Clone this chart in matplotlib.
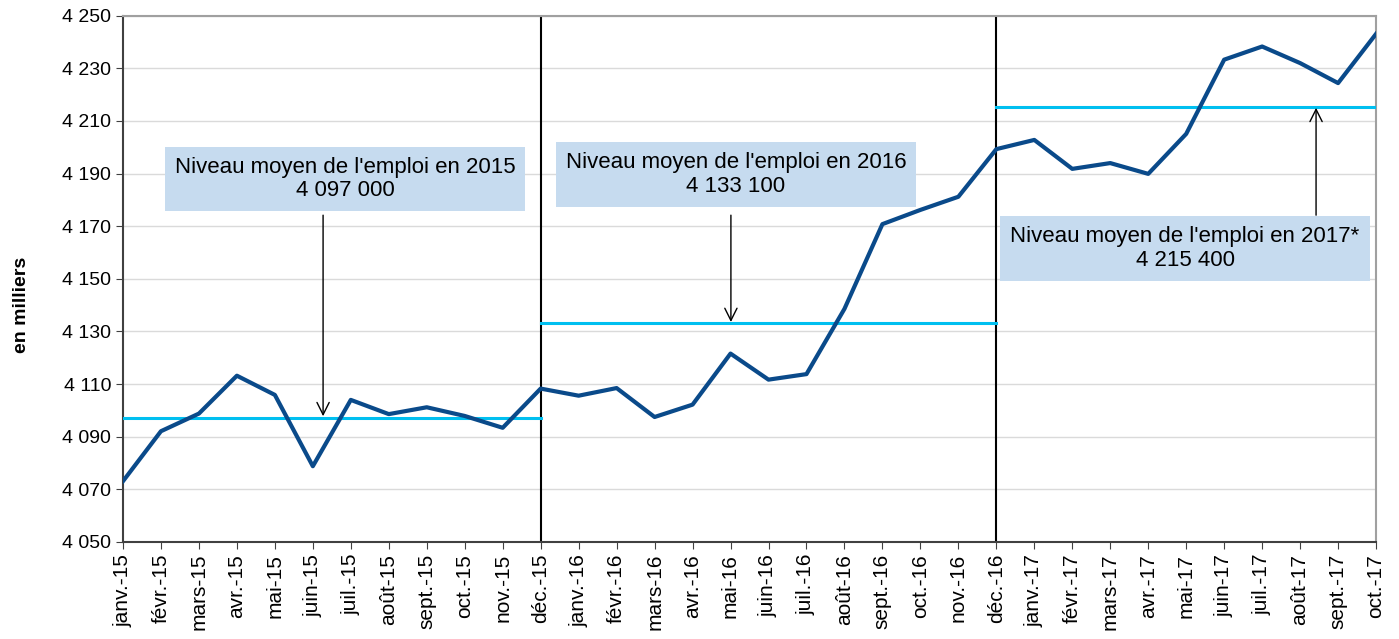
import numpy as np
import matplotlib.pyplot as plt
from matplotlib.ticker import FuncFormatter

plt.rcParams["font.family"] = ["Liberation Sans", "DejaVu Sans"]

months = ["janv.", "févr.", "mars", "avr.", "mai", "juin", "juil.", "août",
          "sept.", "oct.", "nov.", "déc."]
labels = [f"{m}-15" for m in months] + [f"{m}-16" for m in months] + \
         [f"{m}-17" for m in months[:10]]

# employment level, thousands
emploi = [4073.1, 4092.1, 4098.8, 4113.2, 4105.9, 4078.8, 4104.0, 4098.6,
          4101.2, 4097.9, 4093.4, 4108.3,
          4105.6, 4108.5, 4097.5, 4102.2, 4121.6, 4111.7, 4113.8, 4138.6,
          4170.8, 4176.2, 4181.2, 4199.3,
          4202.8, 4191.8, 4194.0, 4189.9, 4205.1, 4233.3, 4238.3, 4232.0,
          4224.4, 4243.1]

# yearly averages (thousands) and the month span they cover
moyennes = [4097.0, 4133.1, 4215.4]
spans = [(0, 11), (11, 23), (23, 33)]
year_breaks = [11, 23]

x = np.arange(len(emploi))

fig = plt.figure(figsize=(13.99, 6.39), dpi=100)
ax = fig.add_axes([0.0879, 0.1518, 0.8957, 0.8236])

ax.set_ylim(4050, 4250)
ax.set_xlim(0, len(emploi) - 1)
ax.set_yticks(np.arange(4050, 4251, 20))
ax.yaxis.set_major_formatter(FuncFormatter(lambda v, p: f"{int(v):,}".replace(",", " ")))
ax.set_xticks(x)
ax.set_xticklabels(labels, rotation=90)
ax.tick_params(axis="both", direction="out", length=5, color="#404040")
ax.tick_params(axis="y", labelsize=14)
ax.tick_params(axis="x", labelsize=15)
ax.grid(axis="y", color="#DADADA", linewidth=1)
ax.set_axisbelow(True)

for side in ["top", "right"]:
    ax.spines[side].set_color("#A0A0A0")
    ax.spines[side].set_linewidth(1.5)
for side in ["left", "bottom"]:
    ax.spines[side].set_color("#404040")
    ax.spines[side].set_linewidth(1.5)

for xb in year_breaks:
    ax.axvline(xb, color="black", linewidth=1.5, zorder=2)

for m, (a, b) in zip(moyennes, spans):
    ax.plot([a, b], [m, m], color="#00BFF0", linewidth=2.2, zorder=3)

ax.plot(x, emploi, color="#0A4A8A", linewidth=3, zorder=4)

ax.set_ylabel("en milliers", fontsize=14, fontweight="bold")
ax.yaxis.set_label_coords(-0.074, 0.45)

box = dict(boxstyle="square,pad=0.45", facecolor="#C6DBEF", edgecolor="none")
texts = [
    ("Niveau moyen de l'emploi en 2015\n4 097 000", 5.85, 4188.0),
    ("Niveau moyen de l'emploi en 2016\n4 133 100", 16.14, 4189.7),
    ("Niveau moyen de l'emploi en 2017*\n4 215 400", 27.97, 4161.5),
]
for t, tx, ty in texts:
    ax.text(tx, ty, t, ha="center", va="center", fontsize=16, bbox=box,
            linespacing=1.15, zorder=5)

arrows = [(5.27, 4174.2, 4097.8), (16.01, 4174.2, 4133.6), (31.42, 4174.2, 4215.0)]
for ax_x, y0, y1 in arrows:
    ax.annotate("", xy=(ax_x, y1), xytext=(ax_x, y0),
                arrowprops=dict(arrowstyle="->", color="black", lw=1,
                                mutation_scale=22, shrinkA=0, shrinkB=0),
                zorder=6)

fig.savefig("out.png", dpi=100)
